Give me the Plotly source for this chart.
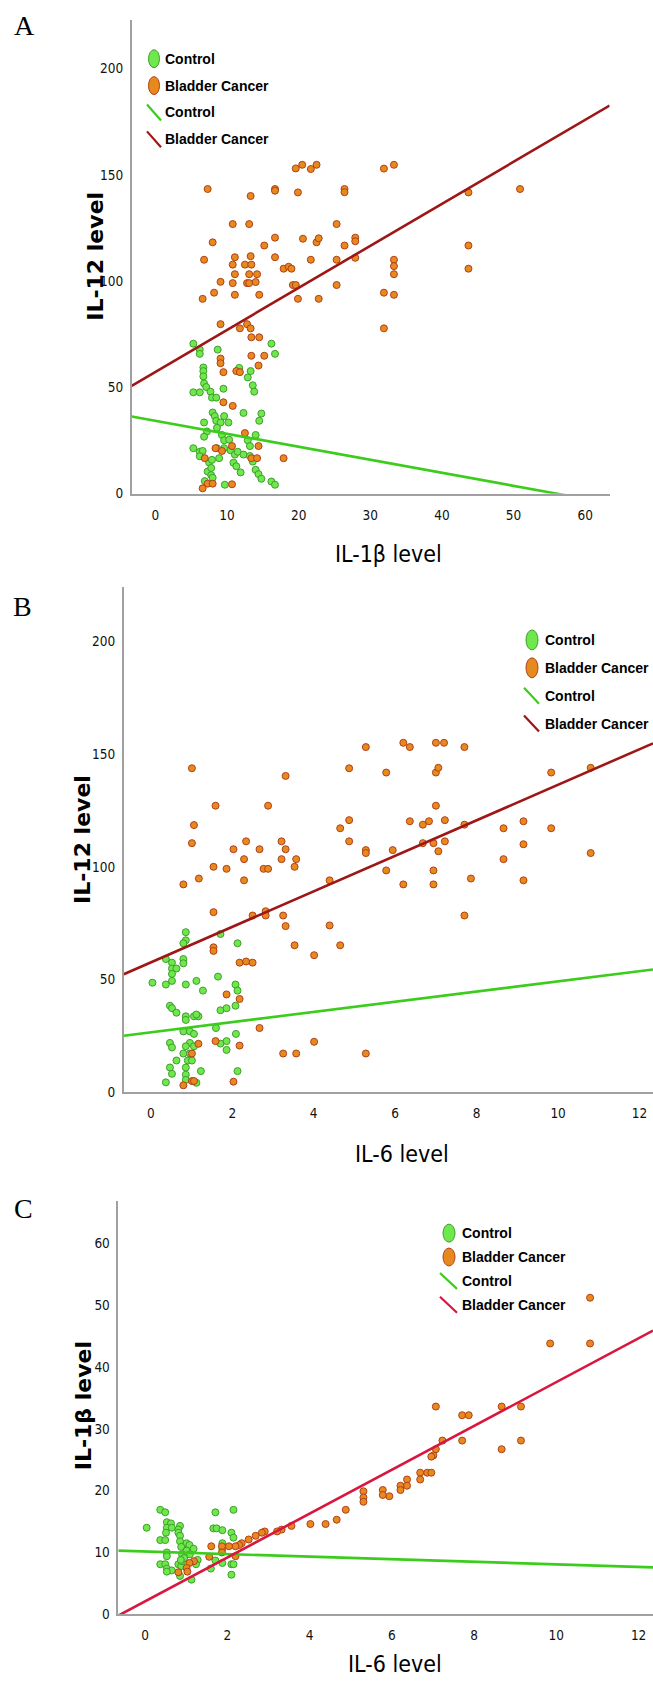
import plotly.graph_objects as go

# ---------------- Panel A : IL-1b (x) vs IL-12 (y) ----------------
a_ctrl_x = [5.3, 6.2, 6.2, 8.7, 16.2, 16.7, 6.7, 6.7, 6.7, 6.8, 7.1, 5.3, 6.2, 7.7, 7.9, 8.5, 9.5, 11.7, 13.3, 12.9,
            13.6, 13.8, 8.0, 8.3, 8.5, 9.1, 9.6, 10.2, 12.3, 14.8, 14.5, 6.8, 7.2, 6.8, 8.6, 9.3, 9.6, 10.3, 12.9, 14.0,
            13.2, 5.3, 6.2, 6.6, 6.2, 7.5, 7.3, 7.8, 7.8, 8.0, 6.9, 8.6, 9.6, 10.5, 11.1, 11.5, 12.3, 10.9, 11.3, 11.9,
            13.2, 13.6, 14.0, 14.4, 14.8, 9.7, 16.2, 16.7, 7.9, 8.9]
a_ctrl_y = [70.6, 67.8, 65.8, 67.8, 70.6, 65.8, 59.4, 57.7, 55.2, 51.9, 50.2, 47.7, 47.7, 48.0, 45.2, 45.2, 49.4, 59.2, 57.7, 54.7,
            51.0, 48.0, 38.2, 36.5, 34.3, 33.5, 36.5, 33.5, 38.0, 37.7, 34.3, 33.5, 29.3, 26.8, 31.0, 27.6, 25.1, 25.4, 25.1, 27.6,
            22.4, 21.4, 19.7, 20.1, 17.6, 14.7, 10.4, 12.1, 8.7, 7.5, 5.9, 21.4, 21.4, 20.4, 18.4, 19.7, 18.4, 14.6, 12.9, 10.0,
            17.7, 15.1, 11.2, 9.2, 7.0, 4.2, 5.7, 4.2, 15.9, 16.7]
a_bc_x = [19.6, 20.5, 21.7, 22.5, 31.9, 33.3, 7.3, 13.3, 16.7, 16.7, 19.9, 26.4, 26.4, 43.7, 50.9, 10.8, 13.1, 25.3,
          8.0, 15.2, 16.7, 20.6, 22.5, 22.8, 26.4, 27.9, 27.9, 43.7, 6.8, 11.1, 13.3, 16.7, 21.7, 25.3, 27.9, 33.3,
          10.8, 12.5, 13.4, 17.9, 18.6, 19.0, 33.3, 43.7, 11.1, 13.1, 14.2, 33.3, 9.1, 10.8, 12.8, 13.1, 14.0, 19.2,
          19.6, 25.3, 6.6, 8.2, 11.1, 14.5, 19.9, 22.8, 31.9, 33.3, 9.1, 11.8, 12.8, 13.3, 31.9, 13.4, 14.5, 9.1, 9.1,
          13.4, 15.2, 14.4, 9.5, 11.3, 11.8, 9.5, 10.8, 12.5, 8.4, 10.7, 14.4, 9.3, 6.9, 13.4, 14.2, 17.9, 7.3, 8.0,
          6.6, 10.7]
a_bc_y = [153.1, 154.8, 152.8, 154.8, 153.0, 154.8, 143.4, 140.1, 143.4, 142.6, 141.8, 143.4, 141.9, 141.8, 143.4, 126.9, 126.9, 126.9,
          118.3, 116.8, 120.5, 120.0, 118.3, 120.2, 116.8, 120.5, 118.8, 116.8, 110.1, 111.3, 111.8, 111.3, 110.1, 110.1, 111.0, 110.1,
          107.8, 107.8, 107.8, 105.9, 106.8, 105.9, 107.1, 105.9, 103.3, 103.3, 103.3, 103.3, 99.7, 99.1, 99.1, 99.1, 99.6, 98.2,
          98.2, 98.2, 91.7, 94.6, 93.6, 93.6, 91.7, 91.7, 94.6, 93.6, 79.8, 77.8, 79.8, 77.8, 77.8, 73.6, 73.6, 63.6, 61.4,
          64.9, 64.9, 60.3, 57.2, 57.7, 57.2, 43.0, 41.3, 28.5, 21.4, 22.4, 22.4, 20.1, 16.7, 16.7, 16.7, 16.7, 4.7, 4.7,
          2.5, 4.4]
a_fit_ctrl = [34.3, -0.6125]   # intercept, slope
a_fit_bc = [57.3, 1.978]

# ---------------- Panel B : IL-6 (x) vs IL-12 (y) ----------------
b_ctrl_x = [0.86, 0.86, 0.8, 1.71, 2.13, 0.37, 0.52, 0.52, 0.63, 0.8, 0.8, 0.52, 0.52, 0.37, 0.04, 0.86, 1.12, 1.28, 1.65, 2.08,
            2.13, 1.71, 1.86, 2.08, 0.47, 0.52, 0.63, 0.86, 1.06, 1.17, 1.12, 0.86, 1.6, 0.8, 0.96, 1.06, 2.09, 0.47, 0.52, 0.96,
            0.86, 1.06, 0.8, 0.96, 1.71, 1.86, 1.86, 0.63, 0.91, 1.01, 0.47, 0.52, 0.86, 0.86, 1.23, 2.13, 0.37, 0.86, 1.12]
b_ctrl_y = [71.0, 67.4, 66.1, 70.2, 66.1, 59.1, 57.5, 54.9, 54.9, 59.1, 57.2, 52.5, 49.4, 47.8, 48.6, 47.8, 49.4, 45.1, 51.3, 47.8,
            45.1, 36.4, 37.3, 38.4, 38.4, 37.3, 35.3, 33.7, 33.7, 33.7, 34.5, 32.1, 28.5, 27.0, 27.0, 25.9, 25.9, 21.9, 19.9, 21.9,
            20.4, 20.4, 17.2, 17.2, 21.6, 22.7, 18.8, 14.1, 14.1, 14.1, 11.0, 8.2, 11.0, 7.8, 9.4, 9.4, 4.4, 5.5, 4.2]
b_bc_x = [1.01, 3.31, 5.28, 6.2, 6.36, 7.0, 7.2, 7.7, 4.87, 5.78, 7.0, 7.06, 9.83, 10.8, 1.59, 2.88, 7.0,
          1.06, 4.87, 6.36, 6.68, 6.83, 7.22, 7.7, 4.65, 8.66, 9.15, 9.83, 1.01, 2.34, 3.21, 4.87, 6.68, 6.94, 7.22, 9.15,
          2.03, 2.67, 3.31, 5.28, 5.28, 5.94, 7.06, 10.8, 1.54, 1.86, 2.29, 3.21, 3.57, 3.53, 2.77, 2.88, 5.78, 6.94, 8.66,
          0.8, 1.18, 2.29, 4.39, 6.2, 6.94, 7.86, 9.15, 1.54, 2.5, 2.82, 2.82, 3.25, 3.31, 4.39, 7.7,
          1.54, 1.54, 3.53, 4.65, 4.01, 2.18, 2.34, 2.5, 1.86, 2.18, 2.67, 1.59, 1.17, 2.18, 1.01, 3.25, 3.57, 5.28, 4.01,
          0.8, 1.01, 1.06, 2.03]
b_bc_y = [143.7, 140.3, 153.1, 155.0, 153.1, 155.0, 155.0, 153.1, 143.7, 141.8, 141.8, 143.9, 141.8, 143.9, 127.1, 127.1, 127.1,
          118.5, 120.7, 120.2, 118.7, 120.2, 120.7, 118.7, 117.1, 117.1, 120.2, 117.1, 110.5, 111.3, 111.3, 111.3, 110.5, 110.5, 111.3, 110.0,
          107.8, 107.8, 107.8, 107.4, 106.1, 107.4, 106.9, 106.1, 100.0, 99.1, 103.4, 103.4, 103.4, 100.0, 99.1, 99.1, 98.4, 98.4, 103.4,
          92.2, 94.8, 94.0, 94.0, 92.2, 92.2, 94.8, 94.0, 79.9, 78.4, 80.3, 78.4, 78.4, 73.7, 74.0, 78.4,
          64.3, 62.7, 65.2, 65.2, 60.8, 57.5, 58.0, 57.5, 43.4, 41.4, 28.5, 22.7, 21.5, 20.7, 17.2, 17.2, 17.2, 17.2, 22.4,
          3.1, 5.0, 5.0, 4.7]
b_fit_ctrl = [26.6, 2.26]
b_fit_bc = [57.6, 7.88]

# ---------------- Panel C : IL-6 (x) vs IL-1b (y) ----------------
c_ctrl_x = [0.37, 0.49, 1.71, 2.15, 0.04, 0.53, 0.63, 0.53, 0.65, 0.85, 0.81, 0.51, 0.81, 1.66, 1.74, 1.88, 2.1, 2.15,
            0.37, 0.49, 0.85, 0.85, 1.01, 1.08, 0.88, 1.18, 1.01, 0.9, 1.09, 0.53, 0.53, 1.88, 1.88, 1.28, 0.37, 0.49,
            0.53, 0.65, 0.81, 0.88, 0.9, 1.24, 0.85, 1.13, 1.6, 1.71, 1.88, 2.1, 2.15, 2.1, 0.53, 0.95, 0.87]
c_ctrl_y = [16.9, 16.5, 16.5, 16.9, 14.0, 14.9, 14.7, 14.0, 14.0, 14.3, 13.7, 13.2, 13.2, 13.9, 13.9, 13.6, 13.2, 12.4,
            12.0, 12.0, 12.7, 11.8, 11.5, 11.2, 10.9, 10.6, 10.3, 9.7, 9.7, 10.0, 9.4, 11.5, 10.6, 8.8, 8.1, 8.1,
            7.4, 7.1, 8.1, 7.8, 8.6, 8.1, 6.2, 5.6, 7.4, 8.7, 8.3, 8.1, 8.1, 6.4, 6.9, 9.1, 8.8]
c_bc_x = [10.82, 9.85, 10.82, 7.07, 7.71, 7.87, 8.67, 9.14, 7.71, 7.23, 9.14, 8.67, 7.07, 7.01, 6.96, 6.69, 6.86, 6.96,
          6.69, 6.37, 6.37, 6.21, 6.21, 5.94, 5.78, 5.78, 5.31, 5.31, 5.31, 4.88, 4.66, 4.39, 4.02, 3.56, 3.32, 3.21,
          2.91, 2.84, 2.69, 2.52, 2.35, 2.29, 2.2, 2.04, 1.87, 1.61, 1.87, 2.2, 1.56, 1.19, 1.08, 1.01, 0.81, 1.03]
c_bc_y = [51.2, 43.8, 43.8, 33.6, 32.2, 32.2, 33.6, 33.6, 28.1, 28.1, 28.1, 26.7, 26.7, 25.7, 25.5, 22.9, 22.9, 22.9,
          21.8, 21.8, 20.8, 20.8, 20.1, 19.1, 20.1, 19.3, 19.9, 18.9, 18.2, 16.9, 15.3, 14.6, 14.6, 14.3, 13.7, 13.4,
          13.4, 13.2, 12.7, 12.1, 11.5, 11.2, 11.0, 11.0, 11.0, 11.0, 10.0, 9.4, 9.3, 8.6, 8.3, 7.5, 6.8, 6.9]
c_fit_ctrl = [10.16, -0.208]
c_fit_bc = [2.09, 3.547]

series_names = ["Control", "Bladder Cancer"]

# ---------------- styling ----------------
W, H = 653, 1687
SANS = "Liberation Sans, Arial, sans-serif"
COND = "DejaVu Sans Condensed, DejaVu Sans, sans-serif"
CTRL_FILL, CTRL_EDGE = "#6ee84c", "#3f9e2c"
BC_FILL, BC_EDGE = "#e8891e", "#b0401a"
CTRL_LINE = "#3ccc1c"
AXIS_COLOR = "#a0a0a0"

panels = [
    dict(ax="", cx=a_ctrl_x, cy=a_ctrl_y, bx=a_bc_x, by=a_bc_y, fc=a_fit_ctrl, fb=a_fit_bc,
         bcline="#9e1616", xr=[-3.3, 63.4], yr=[0, 223], xd=[131.7, 609.6], yd=[20, 496],
         xt=[0, 10, 20, 30, 40, 50, 60], yt=[0, 50, 100, 150, 200],
         leg=dict(mx=154, tx=163, ys=[59, 86, 113, 140], ew=11, eh=18, lx=[147, 161])),
    dict(ax="2", cx=b_ctrl_x, cy=b_ctrl_y, bx=b_bc_x, by=b_bc_y, fc=b_fit_ctrl, fb=b_fit_bc,
         bcline="#9e1616", xr=[-0.665, 12.33], yr=[0, 224], xd=[123.7, 653], yd=[590, 1097.5],
         xt=[0, 2, 4, 6, 8, 10, 12], yt=[0, 50, 100, 150, 200],
         leg=dict(mx=532, tx=543, ys=[643, 671, 699, 727], ew=12, eh=20, lx=[524, 539])),
    dict(ax="3", cx=c_ctrl_x, cy=c_ctrl_y, bx=c_bc_x, by=c_bc_y, fc=c_fit_ctrl, fb=c_fit_bc,
         bcline="#d8163e", xr=[-0.65, 12.35], yr=[0, 66.8], xd=[118.3, 653], yd=[1207, 1622],
         xt=[0, 2, 4, 6, 8, 10, 12], yt=[0, 10, 20, 30, 40, 50, 60],
         leg=dict(mx=449, tx=460, ys=[1239, 1263, 1287, 1311], ew=12, eh=18, lx=[440, 457])),
]

fig = go.Figure()
for p in panels:
    xa, ya = "x" + p["ax"], "y" + p["ax"]
    common = dict(xaxis=xa, yaxis=ya, showlegend=False)
    fig.add_trace(go.Scatter(x=p["cx"], y=p["cy"], mode="markers", name=series_names[0], cliponaxis=False,
                             marker=dict(size=7, color=CTRL_FILL, line=dict(color=CTRL_EDGE, width=1)), **common))
    fig.add_trace(go.Scatter(x=p["bx"], y=p["by"], mode="markers", name=series_names[1], cliponaxis=False,
                             marker=dict(size=7, color=BC_FILL, line=dict(color=BC_EDGE, width=1)), **common))
    lx = p["xr"]
    fig.add_trace(go.Scatter(x=lx, y=[p["fc"][0] + p["fc"][1] * v for v in lx], mode="lines", name=series_names[0],
                             line=dict(color=CTRL_LINE, width=2.6), **common))
    fig.add_trace(go.Scatter(x=lx, y=[p["fb"][0] + p["fb"][1] * v for v in lx], mode="lines", name=series_names[1],
                             line=dict(color=p["bcline"], width=2.6), **common))

axis_common = dict(showgrid=False, zeroline=False, showline=True, linecolor=AXIS_COLOR, linewidth=1.5,
                   ticks="", tickfont=dict(family=COND, size=13.5, color="#111111"))
layout = dict(width=W, height=H, margin=dict(l=0, r=0, t=0, b=0), plot_bgcolor="white", paper_bgcolor="white",
              showlegend=False)
for p in panels:
    layout["xaxis" + p["ax"]] = dict(domain=[p["xd"][0] / W, p["xd"][1] / W], range=p["xr"], tickvals=p["xt"],
                                     anchor="y" + p["ax"], ticklabelstandoff=8, **axis_common)
    layout["yaxis" + p["ax"]] = dict(domain=[1 - p["yd"][1] / H, 1 - p["yd"][0] / H], range=p["yr"], tickvals=p["yt"],
                                     anchor="x" + p["ax"], ticklabelstandoff=4, **axis_common)
fig.update_layout(**layout)

# ---------------- legends (symbols + text) ----------------
shapes = []
for p in panels:
    L = p["leg"]
    fills = [(CTRL_FILL, CTRL_EDGE), (BC_FILL, BC_EDGE)]
    for i, (fc, ec) in enumerate(fills):
        yc = L["ys"][i]
        shapes.append(dict(type="circle", xref="paper", yref="paper",
                           x0=(L["mx"] - L["ew"] / 2) / W, x1=(L["mx"] + L["ew"] / 2) / W,
                           y0=1 - (yc + L["eh"] / 2) / H, y1=1 - (yc - L["eh"] / 2) / H,
                           fillcolor=fc, line=dict(color=ec, width=1)))
    for i, col in enumerate([CTRL_LINE, p["bcline"]]):
        yc = L["ys"][2 + i]
        shapes.append(dict(type="line", xref="paper", yref="paper",
                           x0=L["lx"][0] / W, x1=L["lx"][1] / W,
                           y0=1 - (yc - 8) / H, y1=1 - (yc + 8) / H,
                           line=dict(color=col, width=2.2)))
    for i in range(4):
        fig.add_annotation(text=series_names[i % 2], x=L["tx"] / W, y=1 - L["ys"][i] / H, xref="paper", yref="paper",
                           showarrow=False, xanchor="left", yanchor="middle",
                           font=dict(family=SANS, size=14, color="black", weight="bold"))
fig.update_layout(shapes=shapes)

# panel letters and axis titles
letters = [("A", 24, 26), ("B", 22, 609), ("C", 23, 1214)]
for t, x, y in letters:
    fig.add_annotation(text=t, x=x / W, y=1 - y / H, xref="paper", yref="paper", showarrow=False,
                       xanchor="center", yanchor="middle",
                       font=dict(family="Liberation Serif, Times New Roman, serif", size=28, color="black"))

xtitles = [("IL-1β level", 388, 557), ("IL-6 level", 402, 1160), ("IL-6 level", 395, 1672)]
for t, x, y in xtitles:
    fig.add_annotation(text=t, x=x / W, y=1 - y / H, xref="paper", yref="paper", showarrow=False,
                       xanchor="center", yanchor="middle", font=dict(family=COND, size=23, color="black"))

ytitles = [("IL-12 level", 96, 258), ("IL-12 level", 83, 844), ("IL-1β level", 83, 1413)]
for t, x, y in ytitles:
    fig.add_annotation(text=t, x=x / W, y=1 - y / H, xref="paper", yref="paper", showarrow=False, textangle=-90,
                       xanchor="center", yanchor="middle",
                       font=dict(family="DejaVu Sans, Arial, sans-serif", size=22, color="black", weight="bold"))

fig.write_html("out.html")
